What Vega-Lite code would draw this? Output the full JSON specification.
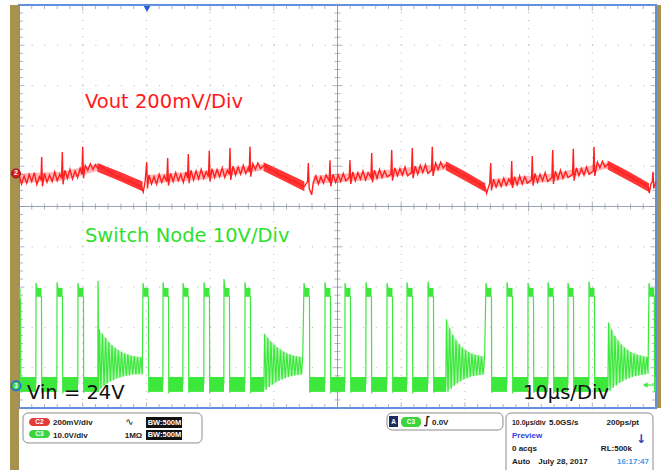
{
"$schema": "https://vega.github.io/schema/vega-lite/v6.json",
"width": 637, "height": 403,
"autosize": {"type": "none"},
"padding": {"left": 19, "top": 5, "right": 5, "bottom": 62},
"background": "white",
"config": {"view": {"stroke": "#5e8fe3", "strokeWidth": 2}, "axis": {"disable": true}, "legend": {"disable": true}},
"resolve": {"scale": {"size": "independent"}},
"data": {"values": [{}]},
"datasets": {
"yt": [{"v":0,"m":1},{"v":0.2,"m":0},{"v":0.4,"m":0},{"v":0.6,"m":0},{"v":0.8,"m":0},{"v":1,"m":1},{"v":1.2,"m":0},{"v":1.4,"m":0},{"v":1.6,"m":0},{"v":1.8,"m":0},{"v":2,"m":1},{"v":2.2,"m":0},{"v":2.4,"m":0},{"v":2.6,"m":0},{"v":2.8,"m":0},{"v":3,"m":1},{"v":3.2,"m":0},{"v":3.4,"m":0},{"v":3.6,"m":0},{"v":3.8,"m":0},{"v":4,"m":1},{"v":4.2,"m":0},{"v":4.4,"m":0},{"v":4.6,"m":0},{"v":4.8,"m":0},{"v":5,"m":1},{"v":5.2,"m":0},{"v":5.4,"m":0},{"v":5.6,"m":0},{"v":5.8,"m":0},{"v":6,"m":1},{"v":6.2,"m":0},{"v":6.4,"m":0},{"v":6.6,"m":0},{"v":6.8,"m":0},{"v":7,"m":1},{"v":7.2,"m":0},{"v":7.4,"m":0},{"v":7.6,"m":0},{"v":7.8,"m":0},{"v":8,"m":1},{"v":8.2,"m":0},{"v":8.4,"m":0},{"v":8.6,"m":0},{"v":8.8,"m":0},{"v":9,"m":1},{"v":9.2,"m":0},{"v":9.4,"m":0},{"v":9.6,"m":0},{"v":9.8,"m":0},{"v":10,"m":1}],
"xt": [{"v":0,"m":1},{"v":2,"m":0},{"v":4,"m":0},{"v":6,"m":0},{"v":8,"m":0},{"v":10,"m":1},{"v":12,"m":0},{"v":14,"m":0},{"v":16,"m":0},{"v":18,"m":0},{"v":20,"m":1},{"v":22,"m":0},{"v":24,"m":0},{"v":26,"m":0},{"v":28,"m":0},{"v":30,"m":1},{"v":32,"m":0},{"v":34,"m":0},{"v":36,"m":0},{"v":38,"m":0},{"v":40,"m":1},{"v":42,"m":0},{"v":44,"m":0},{"v":46,"m":0},{"v":48,"m":0},{"v":50,"m":1},{"v":52,"m":0},{"v":54,"m":0},{"v":56,"m":0},{"v":58,"m":0},{"v":60,"m":1},{"v":62,"m":0},{"v":64,"m":0},{"v":66,"m":0},{"v":68,"m":0},{"v":70,"m":1},{"v":72,"m":0},{"v":74,"m":0},{"v":76,"m":0},{"v":78,"m":0},{"v":80,"m":1},{"v":82,"m":0},{"v":84,"m":0},{"v":86,"m":0},{"v":88,"m":0},{"v":90,"m":1},{"v":92,"m":0},{"v":94,"m":0},{"v":96,"m":0},{"v":98,"m":0},{"v":100,"m":1}],
"g": [{"t":0,"v":2.72},{"t":0.25,"v":2.70},{"t":0.27,"v":0.40},{"t":0.35,"v":0.62},
{"t":2.65,"v":0.6},{"t":2.67,"v":3.1},{"t":2.79,"v":2.98},{"t":3.53,"v":2.74},{"t":3.57,"v":0.38},{"t":3.65,"v":0.62},
{"t":5.95,"v":0.6},{"t":5.97,"v":3.12},{"t":6.09,"v":2.98},{"t":6.83,"v":2.75},{"t":6.87,"v":0.36},{"t":6.95,"v":0.62},
{"t":9.24,"v":0.6},{"t":9.26,"v":3.1},{"t":9.38,"v":2.97},{"t":10.12,"v":2.74},{"t":10.16,"v":0.38},{"t":10.24,"v":0.62},
{"t":12.38,"v":0.6},{"t":12.40,"v":3.15},{"t":12.44,"v":2.9},{"t":12.48,"v":0.40},
{"t":12.60,"v":1.96},{"t":12.85,"v":0.48},{"t":13.10,"v":1.84},{"t":13.35,"v":0.55},{"t":13.60,"v":1.74},{"t":13.85,"v":0.61},{"t":14.10,"v":1.64},{"t":14.35,"v":0.66},{"t":14.60,"v":1.56},{"t":14.85,"v":0.69},{"t":15.10,"v":1.49},{"t":15.35,"v":0.73},{"t":15.60,"v":1.44},{"t":15.85,"v":0.76},{"t":16.10,"v":1.39},{"t":16.35,"v":0.78},{"t":16.60,"v":1.35},{"t":16.85,"v":0.80},{"t":17.10,"v":1.33},{"t":17.35,"v":0.81},{"t":17.60,"v":1.30},{"t":17.85,"v":0.83},{"t":18.10,"v":1.28},{"t":18.35,"v":0.83},{"t":18.60,"v":1.27},{"t":18.85,"v":0.84},{"t":19.10,"v":1.26},{"t":19.35,"v":0.84},
{"t":19.47,"v":3.1},{"t":19.59,"v":2.98},{"t":20.33,"v":2.74},{"t":20.37,"v":0.38},{"t":20.45,"v":0.62},
{"t":22.59,"v":0.6},{"t":22.61,"v":3.12},{"t":22.73,"v":2.98},{"t":23.47,"v":2.75},{"t":23.51,"v":0.36},{"t":23.59,"v":0.62},
{"t":25.73,"v":0.6},{"t":25.75,"v":3.1},{"t":25.87,"v":2.97},{"t":26.61,"v":2.74},{"t":26.65,"v":0.38},{"t":26.73,"v":0.62},
{"t":29.02,"v":0.6},{"t":29.04,"v":3.12},{"t":29.16,"v":2.98},{"t":29.90,"v":2.75},{"t":29.94,"v":0.36},{"t":30.02,"v":0.62},
{"t":32.16,"v":0.6},{"t":32.18,"v":3.2},{"t":32.30,"v":2.99},{"t":33.04,"v":2.75},{"t":33.08,"v":0.38},{"t":33.16,"v":0.62},
{"t":35.46,"v":0.6},{"t":35.48,"v":3.12},{"t":35.60,"v":2.98},{"t":36.34,"v":2.74},{"t":36.38,"v":0.36},{"t":36.46,"v":0.62},
{"t":38.45,"v":0.55},
{"t":38.55,"v":1.84},{"t":38.80,"v":0.45},{"t":39.05,"v":1.74},{"t":39.30,"v":0.52},{"t":39.55,"v":1.65},{"t":39.80,"v":0.58},{"t":40.05,"v":1.57},{"t":40.30,"v":0.63},{"t":40.55,"v":1.50},{"t":40.80,"v":0.67},{"t":41.05,"v":1.45},{"t":41.30,"v":0.71},{"t":41.55,"v":1.40},{"t":41.80,"v":0.74},{"t":42.05,"v":1.36},{"t":42.30,"v":0.77},{"t":42.55,"v":1.33},{"t":42.80,"v":0.79},{"t":43.05,"v":1.30},{"t":43.30,"v":0.81},{"t":43.55,"v":1.28},{"t":43.80,"v":0.82},{"t":44.05,"v":1.27},{"t":44.30,"v":0.83},{"t":44.55,"v":1.26},
{"t":44.74,"v":3.1},{"t":44.86,"v":2.98},{"t":45.60,"v":2.74},{"t":45.64,"v":0.38},{"t":45.72,"v":0.62},
{"t":48.02,"v":0.6},{"t":48.04,"v":3.12},{"t":48.16,"v":2.98},{"t":48.90,"v":2.75},{"t":48.94,"v":0.36},{"t":49.02,"v":0.62},
{"t":51.16,"v":0.6},{"t":51.18,"v":3.1},{"t":51.30,"v":2.97},{"t":52.04,"v":2.74},{"t":52.08,"v":0.38},{"t":52.16,"v":0.62},
{"t":54.45,"v":0.6},{"t":54.47,"v":3.12},{"t":54.59,"v":2.98},{"t":55.33,"v":2.75},{"t":55.37,"v":0.36},{"t":55.45,"v":0.62},
{"t":57.75,"v":0.6},{"t":57.77,"v":3.1},{"t":57.89,"v":2.98},{"t":58.63,"v":2.74},{"t":58.67,"v":0.38},{"t":58.75,"v":0.62},
{"t":60.89,"v":0.6},{"t":60.91,"v":3.12},{"t":61.03,"v":2.98},{"t":61.77,"v":2.75},{"t":61.81,"v":0.36},{"t":61.89,"v":0.62},
{"t":64.19,"v":0.6},{"t":64.21,"v":3.14},{"t":64.33,"v":2.98},{"t":65.07,"v":2.74},{"t":65.11,"v":0.38},{"t":65.19,"v":0.62},
{"t":67.00,"v":0.55},
{"t":67.10,"v":2.20},{"t":67.35,"v":0.40},{"t":67.60,"v":1.98},{"t":67.85,"v":0.48},{"t":68.10,"v":1.82},{"t":68.35,"v":0.55},{"t":68.60,"v":1.68},{"t":68.85,"v":0.61},{"t":69.10,"v":1.58},{"t":69.35,"v":0.66},{"t":69.60,"v":1.50},{"t":69.85,"v":0.70},{"t":70.10,"v":1.44},{"t":70.35,"v":0.74},{"t":70.60,"v":1.39},{"t":70.85,"v":0.77},{"t":71.10,"v":1.35},{"t":71.35,"v":0.79},{"t":71.60,"v":1.32},{"t":71.85,"v":0.81},{"t":72.10,"v":1.30},{"t":72.35,"v":0.82},{"t":72.60,"v":1.28},{"t":72.85,"v":0.83},{"t":73.10,"v":1.27},
{"t":73.31,"v":3.1},{"t":73.43,"v":2.98},{"t":74.17,"v":2.74},{"t":74.21,"v":0.38},{"t":74.29,"v":0.62},
{"t":76.59,"v":0.6},{"t":76.61,"v":3.12},{"t":76.73,"v":2.98},{"t":77.47,"v":2.75},{"t":77.51,"v":0.36},{"t":77.59,"v":0.62},
{"t":79.89,"v":0.6},{"t":79.91,"v":3.1},{"t":80.03,"v":2.97},{"t":80.77,"v":2.74},{"t":80.81,"v":0.38},{"t":80.89,"v":0.62},
{"t":83.03,"v":0.6},{"t":83.05,"v":3.12},{"t":83.17,"v":2.98},{"t":83.91,"v":2.75},{"t":83.95,"v":0.36},{"t":84.03,"v":0.62},
{"t":86.17,"v":0.6},{"t":86.19,"v":3.1},{"t":86.31,"v":2.98},{"t":87.05,"v":2.74},{"t":87.09,"v":0.38},{"t":87.17,"v":0.62},
{"t":89.46,"v":0.6},{"t":89.48,"v":3.14},{"t":89.60,"v":2.98},{"t":90.34,"v":2.75},{"t":90.38,"v":0.36},{"t":90.46,"v":0.62},
{"t":92.45,"v":0.55},
{"t":92.55,"v":2.12},{"t":92.80,"v":0.42},{"t":93.05,"v":1.94},{"t":93.30,"v":0.50},{"t":93.55,"v":1.79},{"t":93.80,"v":0.56},{"t":94.05,"v":1.67},{"t":94.30,"v":0.62},{"t":94.55,"v":1.57},{"t":94.80,"v":0.66},{"t":95.05,"v":1.50},{"t":95.30,"v":0.70},{"t":95.55,"v":1.44},{"t":95.80,"v":0.74},{"t":96.05,"v":1.39},{"t":96.30,"v":0.77},{"t":96.55,"v":1.35},{"t":96.80,"v":0.79},{"t":97.05,"v":1.32},{"t":97.30,"v":0.81},{"t":97.55,"v":1.30},{"t":97.80,"v":0.82},{"t":98.05,"v":1.28},{"t":98.30,"v":0.83},{"t":98.55,"v":1.27},{"t":98.75,"v":0.85},
{"t":98.9,"v":3.1},{"t":99.02,"v":2.98},{"t":99.74,"v":2.76},{"t":99.78,"v":0.40},{"t":99.86,"v":0.62},{"t":100,"v":0.6}],
"gr": [{"a":0.27,"b":2.67,"lo":0.40,"hi":0.77},{"a":3.57,"b":5.97,"lo":0.40,"hi":0.77},{"a":6.87,"b":9.26,"lo":0.40,"hi":0.77},{"a":10.16,"b":12.40,"lo":0.40,"hi":0.77},{"a":20.37,"b":22.61,"lo":0.40,"hi":0.77},{"a":23.51,"b":25.75,"lo":0.40,"hi":0.77},{"a":26.65,"b":29.04,"lo":0.40,"hi":0.77},{"a":29.94,"b":32.18,"lo":0.40,"hi":0.77},{"a":33.08,"b":35.48,"lo":0.40,"hi":0.77},{"a":36.38,"b":38.5,"lo":0.40,"hi":0.77},{"a":45.64,"b":48.04,"lo":0.40,"hi":0.77},{"a":48.94,"b":51.18,"lo":0.40,"hi":0.77},{"a":52.08,"b":54.47,"lo":0.40,"hi":0.77},{"a":55.37,"b":57.77,"lo":0.40,"hi":0.77},{"a":58.67,"b":60.91,"lo":0.40,"hi":0.77},{"a":61.81,"b":64.21,"lo":0.40,"hi":0.77},{"a":65.11,"b":67.05,"lo":0.40,"hi":0.77},{"a":74.21,"b":76.61,"lo":0.40,"hi":0.77},{"a":77.51,"b":79.91,"lo":0.40,"hi":0.77},{"a":80.81,"b":83.05,"lo":0.40,"hi":0.77},{"a":83.95,"b":86.19,"lo":0.40,"hi":0.77},{"a":87.09,"b":89.48,"lo":0.40,"hi":0.77},{"a":90.38,"b":92.5,"lo":0.40,"hi":0.77},{"a":99.86,"b":100,"lo":0.40,"hi":0.77},
{"a":0,"b":0.25,"lo":2.72,"hi":2.96},{"a":2.69,"b":3.53,"lo":2.76,"hi":2.98},{"a":5.99,"b":6.83,"lo":2.76,"hi":2.98},{"a":9.28,"b":10.12,"lo":2.76,"hi":2.98},{"a":19.49,"b":20.33,"lo":2.76,"hi":2.98},{"a":22.63,"b":23.47,"lo":2.76,"hi":2.98},{"a":25.77,"b":26.61,"lo":2.76,"hi":2.98},{"a":29.06,"b":29.90,"lo":2.76,"hi":2.98},{"a":32.20,"b":33.04,"lo":2.76,"hi":2.98},{"a":35.50,"b":36.34,"lo":2.76,"hi":2.98},{"a":44.76,"b":45.60,"lo":2.76,"hi":2.98},{"a":48.06,"b":48.90,"lo":2.76,"hi":2.98},{"a":51.20,"b":52.04,"lo":2.76,"hi":2.98},{"a":54.49,"b":55.33,"lo":2.76,"hi":2.98},{"a":57.79,"b":58.63,"lo":2.76,"hi":2.98},{"a":60.93,"b":61.77,"lo":2.76,"hi":2.98},{"a":64.23,"b":65.07,"lo":2.76,"hi":2.98},{"a":73.33,"b":74.17,"lo":2.76,"hi":2.98},{"a":76.63,"b":77.47,"lo":2.76,"hi":2.98},{"a":79.93,"b":80.77,"lo":2.76,"hi":2.98},{"a":83.07,"b":83.91,"lo":2.76,"hi":2.98},{"a":86.21,"b":87.05,"lo":2.76,"hi":2.98},{"a":89.50,"b":90.34,"lo":2.76,"hi":2.98},{"a":98.92,"b":99.74,"lo":2.76,"hi":2.98}],
"ge": [{"g":1,"t":12.5,"hi":1.96,"lo":0.45},{"g":1,"t":13.6,"hi":1.74,"lo":0.58},{"g":1,"t":14.6,"hi":1.56,"lo":0.68},{"g":1,"t":16.1,"hi":1.39,"lo":0.77},{"g":1,"t":17.6,"hi":1.30,"lo":0.83},{"g":1,"t":19.4,"hi":1.26,"lo":0.84},
{"g":2,"t":38.55,"hi":1.84,"lo":0.45},{"g":2,"t":39.55,"hi":1.65,"lo":0.57},{"g":2,"t":41.05,"hi":1.45,"lo":0.70},{"g":2,"t":42.55,"hi":1.33,"lo":0.79},{"g":2,"t":44.55,"hi":1.26,"lo":0.83},
{"g":3,"t":67.1,"hi":2.20,"lo":0.40},{"g":3,"t":68.1,"hi":1.82,"lo":0.54},{"g":3,"t":69.6,"hi":1.50,"lo":0.70},{"g":3,"t":71.1,"hi":1.35,"lo":0.79},{"g":3,"t":73.1,"hi":1.27,"lo":0.83},
{"g":4,"t":92.55,"hi":2.12,"lo":0.42},{"g":4,"t":93.55,"hi":1.79,"lo":0.56},{"g":4,"t":95.05,"hi":1.50,"lo":0.70},{"g":4,"t":96.55,"hi":1.35,"lo":0.79},{"g":4,"t":98.55,"hi":1.27,"lo":0.84}],
"r": [{"t":0,"v":5.80},{"t":0.4,"v":5.56},{"t":0.8,"v":5.76},{"t":1.2,"v":5.58},{"t":1.6,"v":5.80},{"t":2.0,"v":5.62},{"t":2.4,"v":5.84},{"t":2.8,"v":5.55},{"t":3.2,"v":5.74},{"t":3.45,"v":5.66},{"t":3.56,"v":6.23},{"t":3.68,"v":5.50},{"t":4.0,"v":5.82},{"t":4.4,"v":5.60},{"t":4.8,"v":5.78},{"t":5.2,"v":5.62},{"t":5.6,"v":5.86},{"t":6.0,"v":5.64},{"t":6.4,"v":5.80},{"t":6.68,"v":5.70},{"t":6.80,"v":6.35},{"t":6.92,"v":5.55},{"t":7.2,"v":5.90},{"t":7.6,"v":5.70},{"t":8.0,"v":5.92},{"t":8.4,"v":5.68},{"t":8.8,"v":5.88},{"t":9.2,"v":5.72},{"t":9.6,"v":5.95},{"t":9.88,"v":5.80},{"t":10.0,"v":6.48},{"t":10.12,"v":5.70},{"t":10.4,"v":6.02},{"t":10.8,"v":5.90},{"t":11.2,"v":6.06},{"t":11.6,"v":5.92},{"t":12.0,"v":6.04},{"t":12.4,"v":5.94},
{"t":12.8,"v":6.02},{"t":13.6,"v":5.90},{"t":14.4,"v":5.84},{"t":15.2,"v":5.76},{"t":16.0,"v":5.72},{"t":16.8,"v":5.64},{"t":17.6,"v":5.62},{"t":18.4,"v":5.55},{"t":19.2,"v":5.50},{"t":19.5,"v":5.36},{"t":19.8,"v":5.62},{"t":20.05,"v":6.10},{"t":20.17,"v":5.45},
{"t":20.4,"v":5.78},{"t":20.8,"v":5.56},{"t":21.2,"v":5.74},{"t":21.6,"v":5.55},{"t":22.0,"v":5.80},{"t":22.4,"v":5.60},{"t":22.8,"v":5.76},{"t":23.2,"v":5.62},{"t":23.34,"v":6.20},{"t":23.46,"v":5.52},{"t":23.8,"v":5.82},{"t":24.2,"v":5.62},{"t":24.6,"v":5.84},{"t":25.0,"v":5.64},{"t":25.4,"v":5.80},{"t":25.8,"v":5.60},{"t":26.2,"v":5.86},{"t":26.46,"v":5.70},{"t":26.58,"v":6.30},{"t":26.70,"v":5.58},{"t":27.0,"v":5.90},{"t":27.4,"v":5.66},{"t":27.8,"v":5.88},{"t":28.2,"v":5.68},{"t":28.6,"v":5.92},{"t":29.0,"v":5.70},{"t":29.4,"v":5.86},{"t":29.75,"v":5.74},{"t":29.87,"v":6.38},{"t":29.99,"v":5.62},{"t":30.3,"v":5.94},{"t":30.7,"v":5.72},{"t":31.1,"v":5.92},{"t":31.5,"v":5.74},{"t":31.9,"v":5.96},{"t":32.3,"v":5.72},{"t":32.7,"v":5.90},{"t":33.0,"v":5.80},{"t":33.12,"v":6.45},{"t":33.24,"v":5.66},{"t":33.6,"v":6.00},{"t":34.0,"v":5.78},{"t":34.4,"v":5.98},{"t":34.8,"v":5.80},{"t":35.2,"v":6.02},{"t":35.6,"v":5.82},{"t":36.0,"v":5.96},{"t":36.14,"v":5.86},{"t":36.26,"v":6.48},{"t":36.38,"v":5.74},{"t":36.7,"v":6.06},{"t":37.1,"v":5.92},{"t":37.5,"v":6.08},{"t":37.9,"v":5.94},{"t":38.5,"v":6.02},
{"t":39.3,"v":5.92},{"t":40.1,"v":5.88},{"t":40.9,"v":5.78},{"t":41.7,"v":5.75},{"t":42.5,"v":5.66},{"t":43.3,"v":5.62},{"t":44.1,"v":5.55},{"t":44.8,"v":5.50},{"t":45.3,"v":5.62},{"t":45.42,"v":6.08},{"t":45.55,"v":5.45},{"t":45.95,"v":5.29},{"t":46.2,"v":5.60},
{"t":46.6,"v":5.76},{"t":47.0,"v":5.56},{"t":47.4,"v":5.74},{"t":47.8,"v":5.58},{"t":48.2,"v":5.78},{"t":48.7,"v":5.64},{"t":48.82,"v":6.15},{"t":48.94,"v":5.50},{"t":49.3,"v":5.80},{"t":49.7,"v":5.60},{"t":50.1,"v":5.78},{"t":50.5,"v":5.62},{"t":50.9,"v":5.82},{"t":51.3,"v":5.64},{"t":51.84,"v":5.72},{"t":51.96,"v":6.15},{"t":52.08,"v":5.56},{"t":52.4,"v":5.86},{"t":52.8,"v":5.64},{"t":53.2,"v":5.84},{"t":53.6,"v":5.68},{"t":54.0,"v":5.88},{"t":54.4,"v":5.66},{"t":54.8,"v":5.84},{"t":55.25,"v":5.72},{"t":55.37,"v":6.33},{"t":55.49,"v":5.60},{"t":55.8,"v":5.90},{"t":56.2,"v":5.70},{"t":56.6,"v":5.92},{"t":57.0,"v":5.72},{"t":57.4,"v":5.88},{"t":57.8,"v":5.74},{"t":58.39,"v":5.80},{"t":58.51,"v":6.40},{"t":58.63,"v":5.64},{"t":59.0,"v":5.96},{"t":59.4,"v":5.76},{"t":59.8,"v":5.94},{"t":60.2,"v":5.78},{"t":60.6,"v":5.98},{"t":61.0,"v":5.76},{"t":61.62,"v":5.84},{"t":61.74,"v":6.45},{"t":61.86,"v":5.70},{"t":62.2,"v":6.00},{"t":62.6,"v":5.80},{"t":63.0,"v":6.02},{"t":63.4,"v":5.84},{"t":63.8,"v":6.04},{"t":64.2,"v":5.82},{"t":64.76,"v":5.90},{"t":64.88,"v":6.48},{"t":65.0,"v":5.76},{"t":65.4,"v":6.08},{"t":65.8,"v":5.92},{"t":66.2,"v":6.10},{"t":66.6,"v":5.96},{"t":67.05,"v":6.04},
{"t":67.9,"v":5.94},{"t":68.7,"v":5.88},{"t":69.5,"v":5.80},{"t":70.3,"v":5.74},{"t":71.1,"v":5.66},{"t":71.9,"v":5.60},{"t":72.7,"v":5.52},{"t":73.2,"v":5.47},{"t":73.4,"v":5.33},{"t":73.9,"v":5.58},{"t":74.05,"v":6.08},{"t":74.17,"v":5.40},
{"t":74.5,"v":5.68},{"t":74.9,"v":5.48},{"t":75.3,"v":5.66},{"t":75.7,"v":5.50},{"t":76.1,"v":5.70},{"t":76.5,"v":5.52},{"t":76.9,"v":5.68},{"t":77.23,"v":5.58},{"t":77.35,"v":6.13},{"t":77.47,"v":5.46},{"t":77.8,"v":5.74},{"t":78.2,"v":5.54},{"t":78.6,"v":5.76},{"t":79.0,"v":5.56},{"t":79.4,"v":5.74},{"t":79.8,"v":5.58},{"t":80.46,"v":5.66},{"t":80.58,"v":6.25},{"t":80.70,"v":5.52},{"t":81.0,"v":5.82},{"t":81.4,"v":5.60},{"t":81.8,"v":5.80},{"t":82.2,"v":5.64},{"t":82.6,"v":5.84},{"t":83.0,"v":5.62},{"t":83.66,"v":5.72},{"t":83.78,"v":6.40},{"t":83.90,"v":5.56},{"t":84.2,"v":5.88},{"t":84.6,"v":5.68},{"t":85.0,"v":5.90},{"t":85.4,"v":5.70},{"t":85.8,"v":5.86},{"t":86.2,"v":5.72},{"t":86.9,"v":5.80},{"t":87.02,"v":6.43},{"t":87.14,"v":5.64},{"t":87.5,"v":5.96},{"t":87.9,"v":5.76},{"t":88.3,"v":5.94},{"t":88.7,"v":5.78},{"t":89.1,"v":5.98},{"t":89.5,"v":5.80},{"t":90.15,"v":5.88},{"t":90.27,"v":6.48},{"t":90.39,"v":5.76},{"t":90.8,"v":6.10},{"t":91.2,"v":5.96},{"t":91.6,"v":6.12},{"t":92.0,"v":5.98},{"t":92.5,"v":6.06},
{"t":93.3,"v":5.96},{"t":94.1,"v":5.90},{"t":94.9,"v":5.82},{"t":95.7,"v":5.76},{"t":96.5,"v":5.68},{"t":97.3,"v":5.62},{"t":98.1,"v":5.55},{"t":98.8,"v":5.48},{"t":98.95,"v":5.33},{"t":99.2,"v":5.56},{"t":99.42,"v":5.62},{"t":99.53,"v":5.86},{"t":99.65,"v":5.45},{"t":100,"v":5.62}],
"re": [{"g":1,"t":12.3,"hi":6.08,"lo":5.86},{"g":1,"t":15.8,"hi":5.86,"lo":5.63},{"g":1,"t":19.4,"hi":5.62,"lo":5.38},
{"g":2,"t":38.4,"hi":6.10,"lo":5.88},{"g":2,"t":41.6,"hi":5.86,"lo":5.63},{"g":2,"t":44.8,"hi":5.62,"lo":5.38},
{"g":3,"t":67.0,"hi":6.12,"lo":5.90},{"g":3,"t":70.1,"hi":5.86,"lo":5.63},{"g":3,"t":73.2,"hi":5.58,"lo":5.36},
{"g":4,"t":92.4,"hi":6.14,"lo":5.92},{"g":4,"t":95.7,"hi":5.87,"lo":5.64},{"g":4,"t":98.9,"hi":5.58,"lo":5.36}],
"rb": [{"g":1,"t":0,"hi":5.82,"lo":5.58},{"g":1,"t":6.8,"hi":5.86,"lo":5.64},{"g":1,"t":12.3,"hi":6.06,"lo":5.88},
{"g":2,"t":20.2,"hi":5.78,"lo":5.56},{"g":2,"t":29.9,"hi":5.90,"lo":5.68},{"g":2,"t":38.4,"hi":6.06,"lo":5.90},
{"g":3,"t":46.2,"hi":5.76,"lo":5.56},{"g":3,"t":55.4,"hi":5.86,"lo":5.66},{"g":3,"t":67.0,"hi":6.08,"lo":5.92},
{"g":4,"t":74.3,"hi":5.68,"lo":5.48},{"g":4,"t":83.8,"hi":5.82,"lo":5.62},{"g":4,"t":92.4,"hi":6.10,"lo":5.94}],
"sb": [{"a":0.63,"b":28.73,"lo":-0.868,"hi":-0.124},{"a":57.77,"b":75.98,"lo":-0.546,"hi":-0.124},{"a":76.45,"b":99.53,"lo":-1.7,"hi":-0.124}],
"pillr": [{"a":1.57,"b":4.87,"lo":-0.447,"hi":-0.248}],
"pillg": [{"a":1.57,"b":4.87,"lo":-0.744,"hi":-0.546},{"a":59.97,"b":63.11,"lo":-0.471,"hi":-0.223}],
"blk": [{"a":19.94,"b":25.59,"lo":-0.496,"hi":-0.223,"c":"n"},{"a":19.94,"b":25.59,"lo":-0.794,"hi":-0.546,"c":"n"},{"a":58.08,"b":59.50,"lo":-0.471,"hi":-0.199,"c":"a"}],
"pillt": [{"t":3.22,"v":-0.347,"s":"C2"},{"t":3.22,"v":-0.645,"s":"C3"},{"t":61.54,"v":-0.347,"s":"C3"},{"t":58.79,"v":-0.335,"s":"A"}],
"bwt": [{"t":20.2,"v":-0.36,"s":"BW:500M"},{"t":20.2,"v":-0.67,"s":"BW:500M"}],
"st": [{"t":5.34,"v":-0.42,"s":"200mV/div"},{"t":5.34,"v":-0.744,"s":"10.0V/div"},{"t":16.6,"v":-0.744,"s":"1MΩ"},{"t":64.83,"v":-0.42,"s":"0.0V"},{"t":83.2,"v":-0.42,"s":"5.0GS/s"},{"t":77.39,"v":-1.067,"s":"0 acqs"},{"t":77.39,"v":-1.39,"s":"Auto"},{"t":81.52,"v":-1.39,"s":"July 28, 2017"}],
"str": [{"t":97.33,"v":-0.42,"s":"200ps/pt"},{"t":96.23,"v":-1.067,"s":"RL:500k"}]
},
"layer": [
{"mark": {"type": "rect", "color": "#a8924f"}, "encoding": {"x": {"datum": -1.41, "type": "quantitative", "scale": {"domain": [0, 100]}}, "x2": {"datum": 0}, "y": {"datum": -1.6, "type": "quantitative", "scale": {"domain": [0, 10]}}, "y2": {"datum": 10}}},
{"mark": {"type": "rect", "color": "#a8924f"}, "encoding": {"x": {"datum": 100.15, "type": "quantitative", "scale": {"domain": [0, 100]}}, "x2": {"datum": 100.9}, "y": {"datum": 0, "type": "quantitative", "scale": {"domain": [0, 10]}}, "y2": {"datum": 10}}},
{"data": {"name": "xt"}, "transform": [{"filter": "datum.m == 1 && datum.v > 0 && datum.v < 100 && datum.v != 50"}], "mark": {"type": "rule", "color": "#b4b4b4", "strokeDash": [1, 7.06]}, "encoding": {"x": {"field": "v", "type": "quantitative", "scale": {"domain": [0, 100]}}, "y": {"datum": 0, "type": "quantitative", "scale": {"domain": [0, 10]}}, "y2": {"datum": 10}}},
{"data": {"name": "yt"}, "transform": [{"filter": "datum.m == 1 && datum.v > 0 && datum.v < 10 && datum.v != 5"}], "mark": {"type": "rule", "color": "#b4b4b4", "strokeDash": [1, 11.74]}, "encoding": {"y": {"field": "v", "type": "quantitative", "scale": {"domain": [0, 10]}}, "x": {"datum": 0, "type": "quantitative", "scale": {"domain": [0, 100]}}, "x2": {"datum": 100}}},
{"mark": {"type": "rule", "color": "#9aa1b6"}, "encoding": {"x": {"datum": 50, "type": "quantitative", "scale": {"domain": [0, 100]}}, "y": {"datum": 0, "type": "quantitative", "scale": {"domain": [0, 10]}}, "y2": {"datum": 10}}},
{"mark": {"type": "rule", "color": "#9aa1b6"}, "encoding": {"y": {"datum": 5, "type": "quantitative", "scale": {"domain": [0, 10]}}, "x": {"datum": 0, "type": "quantitative", "scale": {"domain": [0, 100]}}, "x2": {"datum": 100}}},
{"data": {"name": "yt"}, "mark": {"type": "tick", "orient": "horizontal", "thickness": 1, "xOffset": 2, "color": "#8c93aa"}, "encoding": {"x": {"datum": 0, "type": "quantitative", "scale": {"domain": [0, 100]}}, "y": {"field": "v", "type": "quantitative", "scale": {"domain": [0, 10]}}, "size": {"field": "m", "type": "quantitative", "scale": {"domain": [0, 1], "range": [4, 7]}, "legend": null}}},
{"data": {"name": "yt"}, "mark": {"type": "tick", "orient": "horizontal", "thickness": 1, "xOffset": -2, "color": "#8c93aa"}, "encoding": {"x": {"datum": 100, "type": "quantitative", "scale": {"domain": [0, 100]}}, "y": {"field": "v", "type": "quantitative", "scale": {"domain": [0, 10]}}, "size": {"field": "m", "type": "quantitative", "scale": {"domain": [0, 1], "range": [4, 7]}, "legend": null}}},
{"data": {"name": "yt"}, "mark": {"type": "tick", "orient": "horizontal", "thickness": 1, "color": "#8c93aa"}, "encoding": {"x": {"datum": 50, "type": "quantitative", "scale": {"domain": [0, 100]}}, "y": {"field": "v", "type": "quantitative", "scale": {"domain": [0, 10]}}, "size": {"field": "m", "type": "quantitative", "scale": {"domain": [0, 1], "range": [6, 10]}, "legend": null}}},
{"data": {"name": "xt"}, "mark": {"type": "tick", "orient": "vertical", "thickness": 1, "yOffset": -2, "color": "#8c93aa"}, "encoding": {"y": {"datum": 0, "type": "quantitative", "scale": {"domain": [0, 10]}}, "x": {"field": "v", "type": "quantitative", "scale": {"domain": [0, 100]}}, "size": {"field": "m", "type": "quantitative", "scale": {"domain": [0, 1], "range": [4, 7]}, "legend": null}}},
{"data": {"name": "xt"}, "mark": {"type": "tick", "orient": "vertical", "thickness": 1, "yOffset": 2, "color": "#8c93aa"}, "encoding": {"y": {"datum": 10, "type": "quantitative", "scale": {"domain": [0, 10]}}, "x": {"field": "v", "type": "quantitative", "scale": {"domain": [0, 100]}}, "size": {"field": "m", "type": "quantitative", "scale": {"domain": [0, 1], "range": [4, 7]}, "legend": null}}},
{"data": {"name": "xt"}, "mark": {"type": "tick", "orient": "vertical", "thickness": 1, "color": "#8c93aa"}, "encoding": {"y": {"datum": 5, "type": "quantitative", "scale": {"domain": [0, 10]}}, "x": {"field": "v", "type": "quantitative", "scale": {"domain": [0, 100]}}, "size": {"field": "m", "type": "quantitative", "scale": {"domain": [0, 1], "range": [6, 10]}, "legend": null}}},
{"data": {"name": "ge"}, "mark": {"type": "area", "color": "#9af29a", "opacity": 0.75}, "encoding": {"x": {"field": "t", "type": "quantitative", "scale": {"domain": [0, 100]}}, "y": {"field": "hi", "type": "quantitative", "scale": {"domain": [0, 10]}}, "y2": {"field": "lo"}, "detail": {"field": "g"}}},
{"data": {"name": "gr"}, "mark": {"type": "rect", "color": "#3de83d"}, "encoding": {"x": {"field": "a", "type": "quantitative", "scale": {"domain": [0, 100]}}, "x2": {"field": "b"}, "y": {"field": "lo", "type": "quantitative", "scale": {"domain": [0, 10]}}, "y2": {"field": "hi"}}},
{"data": {"name": "g"}, "mark": {"type": "line", "color": "#3de83d", "strokeWidth": 1.2}, "encoding": {"x": {"field": "t", "type": "quantitative", "scale": {"domain": [0, 100]}}, "y": {"field": "v", "type": "quantitative", "scale": {"domain": [0, 10]}}}},
{"data": {"name": "rb"}, "mark": {"type": "area", "color": "#ff3030", "opacity": 0.35}, "encoding": {"x": {"field": "t", "type": "quantitative", "scale": {"domain": [0, 100]}}, "y": {"field": "hi", "type": "quantitative", "scale": {"domain": [0, 10]}}, "y2": {"field": "lo"}, "detail": {"field": "g"}}},
{"data": {"name": "re"}, "mark": {"type": "area", "color": "#ff2020", "opacity": 0.9}, "encoding": {"x": {"field": "t", "type": "quantitative", "scale": {"domain": [0, 100]}}, "y": {"field": "hi", "type": "quantitative", "scale": {"domain": [0, 10]}}, "y2": {"field": "lo"}, "detail": {"field": "g"}}},
{"data": {"name": "r"}, "mark": {"type": "line", "color": "#ff1f1f", "strokeWidth": 1.4}, "encoding": {"x": {"field": "t", "type": "quantitative", "scale": {"domain": [0, 100]}}, "y": {"field": "v", "type": "quantitative", "scale": {"domain": [0, 10]}}}},
{"mark": {"type": "text", "text": "Vout 200mV/Div", "font": "DejaVu Sans", "fontSize": 19.5, "align": "left", "baseline": "alphabetic", "color": "#ff1a1a"}, "encoding": {"x": {"datum": 10.36, "type": "quantitative", "scale": {"domain": [0, 100]}}, "y": {"datum": 7.44, "type": "quantitative", "scale": {"domain": [0, 10]}}}},
{"mark": {"type": "text", "text": "Switch Node 10V/Div", "font": "DejaVu Sans", "fontSize": 19.5, "align": "left", "baseline": "alphabetic", "color": "#2ee02e"}, "encoding": {"x": {"datum": 10.36, "type": "quantitative", "scale": {"domain": [0, 100]}}, "y": {"datum": 4.12, "type": "quantitative", "scale": {"domain": [0, 10]}}}},
{"mark": {"type": "text", "text": "Vin = 24V", "font": "DejaVu Sans", "fontSize": 19.5, "align": "left", "baseline": "alphabetic", "color": "#111111"}, "encoding": {"x": {"datum": 1.26, "type": "quantitative", "scale": {"domain": [0, 100]}}, "y": {"datum": 0.223, "type": "quantitative", "scale": {"domain": [0, 10]}}}},
{"mark": {"type": "text", "text": "10µs/Div", "font": "DejaVu Sans", "fontSize": 19.5, "align": "left", "baseline": "alphabetic", "color": "#111111"}, "encoding": {"x": {"datum": 79.12, "type": "quantitative", "scale": {"domain": [0, 100]}}, "y": {"datum": 0.223, "type": "quantitative", "scale": {"domain": [0, 10]}}}},
{"mark": {"type": "point", "shape": "circle", "filled": true, "size": 80, "fill": "#e01a1a", "stroke": "#8a1010", "strokeWidth": 1, "opacity": 1}, "encoding": {"x": {"datum": -0.47, "type": "quantitative", "scale": {"domain": [0, 100]}}, "y": {"datum": 5.82, "type": "quantitative", "scale": {"domain": [0, 10]}}}},
{"mark": {"type": "text", "text": "2", "font": "Liberation Sans", "fontWeight": "bold", "fontSize": 7, "align": "center", "baseline": "middle", "color": "white"}, "encoding": {"x": {"datum": -0.47, "type": "quantitative", "scale": {"domain": [0, 100]}}, "y": {"datum": 5.82, "type": "quantitative", "scale": {"domain": [0, 10]}}}},
{"mark": {"type": "point", "shape": "circle", "filled": true, "size": 90, "fill": "#39c839", "stroke": "#1e6ae6", "strokeWidth": 1.5, "opacity": 1}, "encoding": {"x": {"datum": -0.47, "type": "quantitative", "scale": {"domain": [0, 100]}}, "y": {"datum": 0.55, "type": "quantitative", "scale": {"domain": [0, 10]}}}},
{"mark": {"type": "text", "text": "3", "font": "Liberation Sans", "fontWeight": "bold", "fontSize": 7, "align": "center", "baseline": "middle", "color": "white"}, "encoding": {"x": {"datum": -0.47, "type": "quantitative", "scale": {"domain": [0, 100]}}, "y": {"datum": 0.55, "type": "quantitative", "scale": {"domain": [0, 10]}}}},
{"mark": {"type": "point", "shape": "triangle-down", "filled": true, "size": 45, "fill": "#1f5fe0", "strokeWidth": 0, "yOffset": 4, "opacity": 1}, "encoding": {"x": {"datum": 20.1, "type": "quantitative", "scale": {"domain": [0, 100]}}, "y": {"datum": 10, "type": "quantitative", "scale": {"domain": [0, 10]}}}},
{"mark": {"type": "point", "shape": "triangle-left", "filled": true, "size": 30, "fill": "#3de83d", "strokeWidth": 0, "opacity": 1}, "encoding": {"x": {"datum": 98.3, "type": "quantitative", "scale": {"domain": [0, 100]}}, "y": {"datum": 0.57, "type": "quantitative", "scale": {"domain": [0, 10]}}}},
{"mark": {"type": "rule", "color": "#3de83d", "strokeWidth": 1.2}, "encoding": {"x": {"datum": 98.5, "type": "quantitative", "scale": {"domain": [0, 100]}}, "x2": {"datum": 99.9}, "y": {"datum": 0.57, "type": "quantitative", "scale": {"domain": [0, 10]}}}},
{"data": {"name": "sb"}, "mark": {"type": "rect", "fill": "white", "stroke": "#8c8c8c", "strokeWidth": 1, "cornerRadius": 5}, "encoding": {"x": {"field": "a", "type": "quantitative", "scale": {"domain": [0, 100]}}, "x2": {"field": "b"}, "y": {"field": "lo", "type": "quantitative", "scale": {"domain": [0, 10]}}, "y2": {"field": "hi"}}},
{"data": {"name": "pillr"}, "mark": {"type": "rect", "fill": "#e53a3a", "cornerRadius": 4}, "encoding": {"x": {"field": "a", "type": "quantitative", "scale": {"domain": [0, 100]}}, "x2": {"field": "b"}, "y": {"field": "lo", "type": "quantitative", "scale": {"domain": [0, 10]}}, "y2": {"field": "hi"}}},
{"data": {"name": "pillg"}, "mark": {"type": "rect", "fill": "#3dd43d", "cornerRadius": 4}, "encoding": {"x": {"field": "a", "type": "quantitative", "scale": {"domain": [0, 100]}}, "x2": {"field": "b"}, "y": {"field": "lo", "type": "quantitative", "scale": {"domain": [0, 10]}}, "y2": {"field": "hi"}}},
{"data": {"name": "blk"}, "transform": [{"filter": "datum.c == 'n'"}], "mark": {"type": "rect", "fill": "#111111"}, "encoding": {"x": {"field": "a", "type": "quantitative", "scale": {"domain": [0, 100]}}, "x2": {"field": "b"}, "y": {"field": "lo", "type": "quantitative", "scale": {"domain": [0, 10]}}, "y2": {"field": "hi"}}},
{"data": {"name": "blk"}, "transform": [{"filter": "datum.c == 'a'"}], "mark": {"type": "rect", "fill": "#1c2c5c"}, "encoding": {"x": {"field": "a", "type": "quantitative", "scale": {"domain": [0, 100]}}, "x2": {"field": "b"}, "y": {"field": "lo", "type": "quantitative", "scale": {"domain": [0, 10]}}, "y2": {"field": "hi"}}},
{"data": {"name": "pillt"}, "mark": {"type": "text", "font": "Liberation Sans", "fontWeight": "bold", "fontSize": 6.5, "align": "center", "baseline": "middle", "color": "white"}, "encoding": {"x": {"field": "t", "type": "quantitative", "scale": {"domain": [0, 100]}}, "y": {"field": "v", "type": "quantitative", "scale": {"domain": [0, 10]}}, "text": {"field": "s"}}},
{"data": {"name": "bwt"}, "mark": {"type": "text", "font": "Liberation Sans", "fontWeight": "bold", "fontSize": 7.5, "align": "left", "baseline": "middle", "color": "white"}, "encoding": {"x": {"field": "t", "type": "quantitative", "scale": {"domain": [0, 100]}}, "y": {"field": "v", "type": "quantitative", "scale": {"domain": [0, 10]}}, "text": {"field": "s"}}},
{"data": {"name": "st"}, "mark": {"type": "text", "font": "Liberation Sans", "fontWeight": "bold", "fontSize": 8, "align": "left", "baseline": "alphabetic", "color": "#1a1a1a"}, "encoding": {"x": {"field": "t", "type": "quantitative", "scale": {"domain": [0, 100]}}, "y": {"field": "v", "type": "quantitative", "scale": {"domain": [0, 10]}}, "text": {"field": "s"}}},
{"data": {"name": "str"}, "mark": {"type": "text", "font": "Liberation Sans", "fontWeight": "bold", "fontSize": 8, "align": "right", "baseline": "alphabetic", "color": "#1a1a1a"}, "encoding": {"x": {"field": "t", "type": "quantitative", "scale": {"domain": [0, 100]}}, "y": {"field": "v", "type": "quantitative", "scale": {"domain": [0, 10]}}, "text": {"field": "s"}}},
{"mark": {"type": "text", "text": "10.0µs/div", "font": "Liberation Sans", "fontWeight": "bold", "fontSize": 7, "align": "left", "baseline": "alphabetic", "color": "#1a1a1a"}, "encoding": {"x": {"datum": 77.39, "type": "quantitative", "scale": {"domain": [0, 100]}}, "y": {"datum": -0.42, "type": "quantitative", "scale": {"domain": [0, 10]}}}},
{"mark": {"type": "text", "text": "Preview", "font": "Liberation Sans", "fontWeight": "bold", "fontSize": 8, "align": "left", "baseline": "alphabetic", "color": "#3140e0"}, "encoding": {"x": {"datum": 77.39, "type": "quantitative", "scale": {"domain": [0, 100]}}, "y": {"datum": -0.744, "type": "quantitative", "scale": {"domain": [0, 10]}}}},
{"mark": {"type": "text", "text": "16:17:47", "font": "Liberation Sans", "fontWeight": "bold", "fontSize": 8, "align": "right", "baseline": "alphabetic", "color": "#3a9ae8"}, "encoding": {"x": {"datum": 98.9, "type": "quantitative", "scale": {"domain": [0, 100]}}, "y": {"datum": -1.39, "type": "quantitative", "scale": {"domain": [0, 10]}}}},
{"mark": {"type": "text", "text": "↓", "font": "DejaVu Sans", "fontWeight": "bold", "fontSize": 12, "align": "center", "baseline": "middle", "color": "#1d3fbf"}, "encoding": {"x": {"datum": 97.65, "type": "quantitative", "scale": {"domain": [0, 100]}}, "y": {"datum": -0.76, "type": "quantitative", "scale": {"domain": [0, 10]}}}},
{"mark": {"type": "text", "text": "∿", "font": "DejaVu Sans", "fontSize": 10, "align": "center", "baseline": "middle", "color": "#222222"}, "encoding": {"x": {"datum": 17.35, "type": "quantitative", "scale": {"domain": [0, 100]}}, "y": {"datum": -0.35, "type": "quantitative", "scale": {"domain": [0, 10]}}}},
{"mark": {"type": "text", "text": "∫", "font": "DejaVu Sans", "fontWeight": "bold", "fontSize": 11, "align": "center", "baseline": "middle", "color": "#111111"}, "encoding": {"x": {"datum": 64.05, "type": "quantitative", "scale": {"domain": [0, 100]}}, "y": {"datum": -0.33, "type": "quantitative", "scale": {"domain": [0, 10]}}}}
]
}
